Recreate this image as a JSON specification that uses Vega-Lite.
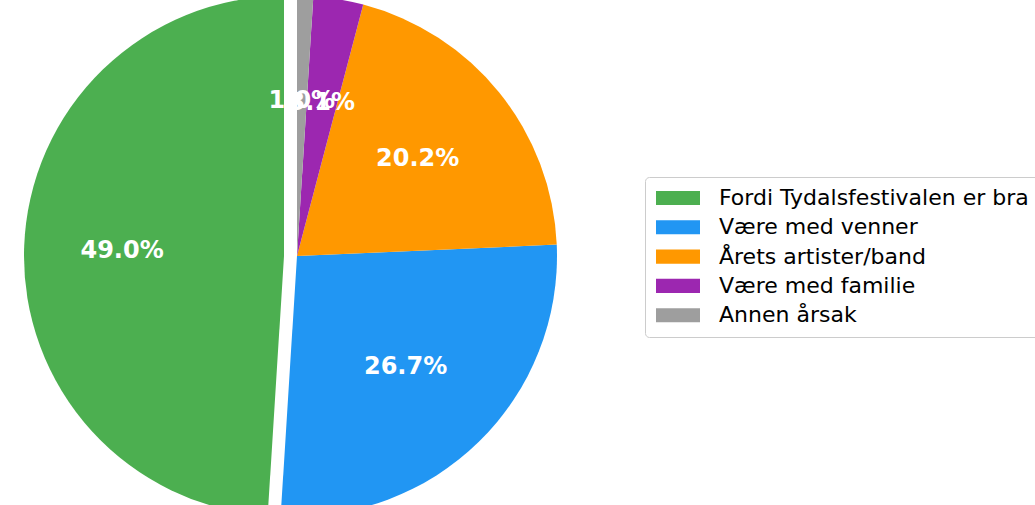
{
  "$schema": "https://vega.github.io/schema/vega-lite/v6.json",
  "width": 1035,
  "height": 505,
  "padding": 0,
  "autosize": {"type": "none"},
  "background": "white",
  "view": {"stroke": null},
  "data": {
    "values": [
      {"reason": "Fordi Tydalsfestivalen er bra", "share": 0.490, "ord": 5},
      {"reason": "Være med venner", "share": 0.267, "ord": 4},
      {"reason": "Årets artister/band", "share": 0.202, "ord": 3},
      {"reason": "Være med familie", "share": 0.031, "ord": 2},
      {"reason": "Annen årsak", "share": 0.010, "ord": 1}
    ]
  },
  "encoding": {
    "theta": {"field": "share", "type": "quantitative", "stack": true},
    "order": {"field": "ord", "type": "quantitative", "sort": "ascending"},
    "color": {
      "field": "reason",
      "type": "nominal",
      "scale": {
        "domain": ["Fordi Tydalsfestivalen er bra", "Være med venner", "Årets artister/band", "Være med familie", "Annen årsak"],
        "range": ["#4CAF50", "#2196F3", "#FF9800", "#9C27B0", "#9E9E9E"]
      },
      "legend": {
        "title": null,
        "orient": "none",
        "legendX": 645,
        "legendY": 177,
        "padding": 10,
        "strokeColor": "#cccccc",
        "cornerRadius": 4,
        "fillColor": "white",
        "symbolType": "M-2,-0.64H2V0.64H-2Z",
        "symbolSize": 484,
        "symbolOffset": 12,
        "symbolStrokeWidth": 0,
        "symbolOpacity": 1,
        "labelFont": "DejaVu Sans",
        "labelFontSize": 22,
        "labelColor": "#000000",
        "labelOffset": 30,
        "labelLimit": 0,
        "rowPadding": 7.3
      }
    }
  },
  "layer": [
    {
      "mark": {"type": "arc", "x": 297, "y": 256, "radius": 260},
      "encoding": {
        "opacity": {"condition": {"test": "datum.ord == 5", "value": 0}, "value": 1}
      }
    },
    {
      "mark": {"type": "arc", "x": 297, "y": 256, "radius": 260, "xOffset": -13},
      "encoding": {
        "opacity": {"condition": {"test": "datum.ord == 5", "value": 1}, "value": 0}
      }
    },
    {
      "mark": {"type": "text", "x": 297, "y": 256, "radius": 155, "font": "DejaVu Sans", "fontWeight": "bold", "fontSize": 24, "fill": "white", "align": "center", "baseline": "middle"},
      "encoding": {
        "text": {"field": "share", "type": "quantitative", "format": ".1%"},
        "color": {"value": "white"},
        "opacity": {"condition": {"test": "datum.ord == 5", "value": 0}, "value": 1}
      }
    },
    {
      "mark": {"type": "text", "x": 297, "y": 256, "radius": 162, "xOffset": -13, "font": "DejaVu Sans", "fontWeight": "bold", "fontSize": 24, "fill": "white", "align": "center", "baseline": "middle"},
      "encoding": {
        "text": {"field": "share", "type": "quantitative", "format": ".1%"},
        "color": {"value": "white"},
        "opacity": {"condition": {"test": "datum.ord == 5", "value": 1}, "value": 0}
      }
    }
  ]
}
